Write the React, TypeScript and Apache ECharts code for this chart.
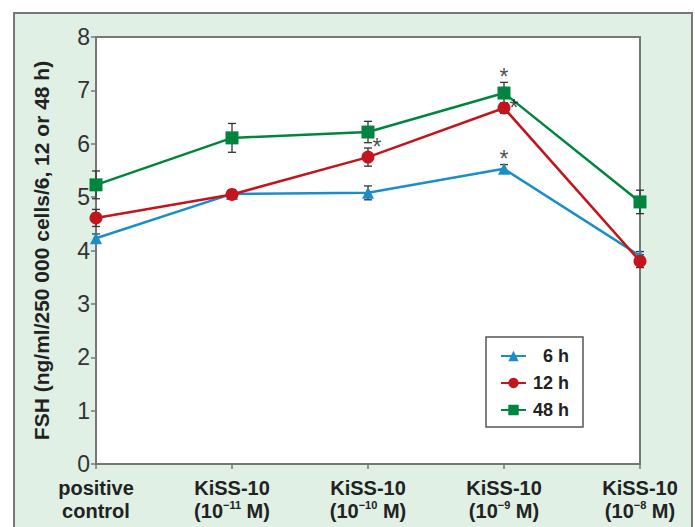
import React, { useEffect, useRef } from "react";
import * as echarts from "echarts";

const categories = ["pc", "m11", "m10", "m9", "m8"];
const categoryLabels = [
  "positive\ncontrol",
  "KiSS-10\n(10{sup|−11} M)",
  "KiSS-10\n(10{sup|−10} M)",
  "KiSS-10\n(10{sup|−9} M)",
  "KiSS-10\n(10{sup|−8} M)",
];
const seriesNames = ["6 h", "12 h", "48 h"];
const values6h = [4.23, 5.06, 5.08, 5.53, 3.9];
const values12h = [4.61, 5.05, 5.75, 6.67, 3.8];
const values48h = [5.23, 6.11, 6.22, 6.95, 4.91];
const err6h = [0.08, 0.08, 0.13, 0.08, 0.08];
const err12h = [0.16, 0.08, 0.17, 0.1, 0.12];
const err48h = [0.26, 0.27, 0.2, 0.2, 0.22];
// asterisks: [category index, series index]
const asterisks = [
  [2, 1],
  [3, 2],
  [3, 1],
  [3, 0],
];
const yTicks = [0, 1, 2, 3, 4, 5, 6, 7, 8];

const colors = ["#1b8ec8", "#c3161c", "#00853e"];
const symbols = ["triangle", "circle", "rect"];
const symbolSizes = [12, 13, 13];
const starOffsets = [
  [9, -10],
  [0, -16],
  [10, 0],
  [0, -10],
];

export default function App() {
  const ref = useRef<HTMLDivElement>(null);
  useEffect(() => {
    if (!ref.current) return;
    const chart = echarts.init(ref.current, null, { renderer: "svg" });
    const allValues = [values6h, values12h, values48h];
    const allErr = [err6h, err12h, err48h];
    const errData: number[][] = [];
    allValues.forEach((vals, s) => {
      vals.forEach((v, i) => {
        errData.push([i, v - allErr[s][i], v + allErr[s][i]]);
      });
    });
    const font = "'Liberation Sans', Arial, sans-serif";
    const lineSeries = allValues.map((vals, s) => ({
      name: seriesNames[s],
      type: "line",
      data: vals,
      symbol: symbols[s],
      symbolSize: symbolSizes[s],
      showSymbol: true,
      lineStyle: { color: colors[s], width: 2.5 },
      itemStyle: { color: colors[s] },
      z: 3 + s,
    }));
    const starSeries = asterisks.map((a, k) => ({
      type: "scatter",
      data: [[a[0], allValues[a[1]][a[0]]]],
      symbolSize: 0,
      silent: true,
      z: 10,
      label: {
        show: true,
        position: "inside",
        formatter: "*",
        offset: starOffsets[k],
        fontSize: 23,
        fontFamily: font,
        color: "#222",
      },
    }));
    chart.setOption({
      animation: false,
      textStyle: { fontFamily: font },
      graphic: [
        {
          type: "rect",
          z: -100,
          shape: { x: 14, y: 13, width: 678, height: 540 },
          style: { fill: "#e1f0e5", stroke: "#777", lineWidth: 2 },
        },
      ],
      grid: {
        left: 96,
        right: 55,
        top: 37,
        bottom: 63,
        show: true,
        backgroundColor: "#fff",
        borderColor: "#777",
        borderWidth: 2,
      },
      legend: {
        left: 486,
        top: 337,
        orient: "vertical",
        backgroundColor: "#fff",
        borderColor: "#555",
        borderWidth: 1.5,
        padding: [10, 14, 8, 14],
        itemGap: 9,
        itemWidth: 25,
        itemHeight: 13,
        data: seriesNames,
        formatter: (name: string) => `{t|${name}}`,
        textStyle: {
          rich: {
            t: {
              width: 38,
              align: "right",
              fontSize: 18,
              fontWeight: "bold",
              lineHeight: 18,
              color: "#222",
              fontFamily: font,
            },
          },
        },
      },
      xAxis: {
        type: "category",
        data: categories,
        boundaryGap: false,
        axisLine: { lineStyle: { color: "#777", width: 2 } },
        axisTick: { show: true, length: 5, lineStyle: { color: "#777", width: 1.5 } },
        axisLabel: {
          margin: 12,
          interval: 0,
          formatter: (_v: string, i: number) => categoryLabels[i],
          color: "#222",
          fontSize: 20,
          fontWeight: "bold",
          lineHeight: 23,
          rich: {
            sup: {
              fontSize: 11,
              fontWeight: "bold",
              color: "#222",
              verticalAlign: "top",
              lineHeight: 16,
            },
          },
        },
        splitLine: { show: false },
      },
      yAxis: {
        type: "value",
        min: 0,
        max: 8,
        interval: 1,
        name: "FSH (ng/ml/250 000 cells/6, 12 or 48 h)",
        nameLocation: "middle",
        nameGap: 44,
        nameTextStyle: { fontSize: 21, fontWeight: "bold", color: "#222" },
        axisLine: { show: true, lineStyle: { color: "#777", width: 2 } },
        axisTick: { show: true, length: 5, lineStyle: { color: "#777", width: 1.5 } },
        axisLabel: {
          fontSize: 23,
          color: "#333",
          margin: 6,
          formatter: (v: number) => (yTicks.includes(v) ? String(v) : ""),
        },
        splitLine: { show: false },
      },
      series: [
        {
          type: "custom",
          data: errData,
          z: 2,
          silent: true,
          renderItem: (_p: any, api: any) => {
            const x = api.value(0);
            const lo = api.coord([x, api.value(1)]);
            const hi = api.coord([x, api.value(2)]);
            const w = 4;
            const st = { stroke: "#333", lineWidth: 1.3 };
            return {
              type: "group",
              children: [
                { type: "line", shape: { x1: lo[0], y1: lo[1], x2: hi[0], y2: hi[1] }, style: st },
                { type: "line", shape: { x1: lo[0] - w, y1: lo[1], x2: lo[0] + w, y2: lo[1] }, style: st },
                { type: "line", shape: { x1: hi[0] - w, y1: hi[1], x2: hi[0] + w, y2: hi[1] }, style: st },
              ],
            };
          },
        },
        ...lineSeries,
        ...starSeries,
      ],
    });
    return () => chart.dispose();
  }, []);
  return (
    <div
      ref={ref}
      style={{ position: "fixed", left: 0, top: 0, width: 695, height: 527, background: "#fff" }}
    />
  );
}
